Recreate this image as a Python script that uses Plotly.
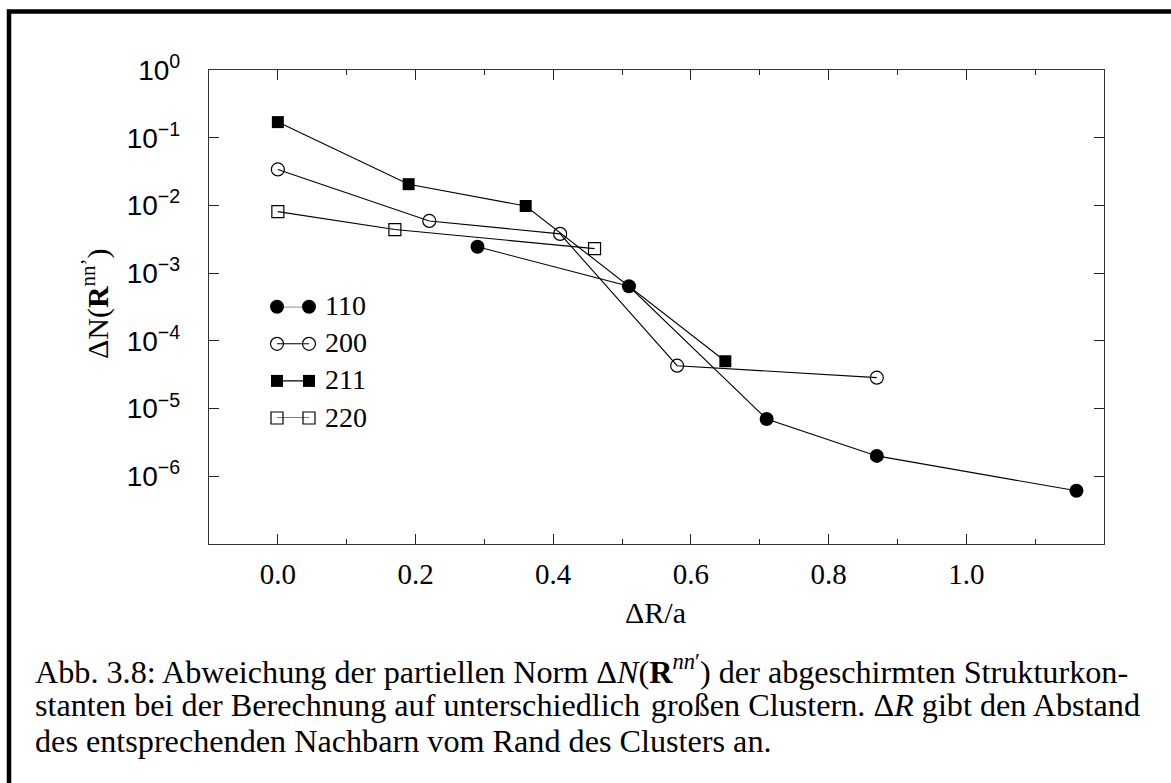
import plotly.graph_objects as go

# Distance from the cluster edge (ΔR/a) and deviation of the partial norm
r_110 = [0.29, 0.51, 0.71, 0.87, 1.16]
n_110 = [2.45e-3, 6.4e-4, 7.0e-6, 2.0e-6, 6.1e-7]

r_200 = [0.0, 0.22, 0.41, 0.58, 0.87]
n_200 = [3.4e-2, 5.9e-3, 3.8e-3, 4.3e-5, 2.86e-5]

r_211 = [0.0, 0.19, 0.36, 0.65]
n_211 = [1.7e-1, 2.06e-2, 9.8e-3, 5.0e-5]

r_220 = [0.0, 0.17, 0.46]
n_220 = [8.1e-3, 4.4e-3, 2.3e-3]

series_names = ["110", "200", "211", "220"]

x_tick_vals = [0.0, 0.2, 0.4, 0.6, 0.8, 1.0]
x_tick_text = ["0.0", "0.2", "0.4", "0.6", "0.8", "1.0"]
x_minor_vals = [-0.1, 0.1, 0.3, 0.5, 0.7, 0.9, 1.1]

y_tick_vals = [1e0, 1e-1, 1e-2, 1e-3, 1e-4, 1e-5, 1e-6]
y_tick_text = ["10<sup>0</sup>", "10<sup>\u22121</sup>", "10<sup>\u22122</sup>",
               "10<sup>\u22123</sup>", "10<sup>\u22124</sup>", "10<sup>\u22125</sup>",
               "10<sup>\u22126</sup>"]

HS = "\u200a"  # hair space, widens a few gaps of the justified caption line


def widen(text, every=6):
    words = text.split(" ")
    out = words[0]
    for i, w in enumerate(words[1:], start=1):
        out += (" " + HS if i % every == 0 else " ") + w
    return out


caption_lines = [
    "Abb. 3.8: Abweichung der partiellen Norm \u0394<i>N</i>(<b>R</b><sup><i>nn</i>\u2032</sup>) der abgeschirmten Strukturkon-",
    widen("stanten bei der Berechnung auf unterschiedlich gro\u00dfen Clustern. "
          "\u0394<i>R</i> gibt den Abstand"),
    "des entsprechenden Nachbarn vom Rand des Clusters an.",
]

W, H = 1171, 783
L, R, T, B = 209, 1104, 70, 544  # plot area in pixels

def px_x(p):
    return (p - L) / (R - L)

def px_y(p):
    return (B - p) / (B - T)

styles = {
    "110": dict(symbol="circle", size=14, color="black"),
    "200": dict(symbol="circle-open", size=13, color="black", line=dict(width=1.2)),
    "211": dict(symbol="square", size=12, color="black"),
    "220": dict(symbol="square-open", size=12, color="black", line=dict(width=1.2)),
}
data = {"110": (r_110, n_110), "200": (r_200, n_200),
        "211": (r_211, n_211), "220": (r_220, n_220)}

fig = go.Figure()
for name in series_names:
    xs, ys = data[name]
    fig.add_trace(go.Scatter(
        x=xs, y=ys, mode="lines+markers", name=name,
        line=dict(color="black", width=1.1),
        marker=styles[name], cliponaxis=False, showlegend=False,
    ))

# Legend keys: marker - line - marker, drawn on a small helper axis
for i, name in enumerate(series_names):
    fig.add_trace(go.Scatter(
        x=[0, 1], y=[i, i], mode="lines+markers", xaxis="x2", yaxis="y2",
        line=dict(color="black", width=1.1), marker=styles[name],
        cliponaxis=False, showlegend=False, hoverinfo="skip",
    ))
    fig.add_annotation(x=1, y=i, xref="x2", yref="y2", text=name,
                       showarrow=False, xanchor="left", yanchor="middle",
                       xshift=14, yshift=1,
                       font=dict(family="Liberation Serif", size=28, color="black"))

axis_common = dict(showline=True, linecolor="#333", linewidth=1.4, mirror="allticks",
                   ticks="inside", ticklen=10, tickwidth=1.2, tickcolor="#222",
                   showgrid=False, zeroline=False)

fig.update_layout(
    width=W, height=H,
    margin=dict(l=L, r=W - R, t=T, b=H - B),
    paper_bgcolor="white", plot_bgcolor="white",
    xaxis=dict(range=[-0.1, 1.2], tickmode="array", tickvals=x_tick_vals,
               ticktext=x_tick_text, ticklabelstandoff=4,
               tickfont=dict(family="Liberation Serif", size=29, color="black"),
               minor=dict(tickmode="array", tickvals=x_minor_vals, ticks="inside",
                          ticklen=5, tickwidth=1.2, tickcolor="#222"),
               **axis_common),
    yaxis=dict(type="log", range=[-7, 0], tickmode="array", tickvals=y_tick_vals,
               ticktext=y_tick_text, ticklabelstandoff=22,
               tickfont=dict(family="Liberation Sans", size=28, color="black"),
               **axis_common),
    xaxis2=dict(domain=[px_x(277), px_x(309)], range=[0, 1], anchor="y2",
                visible=False, fixedrange=True),
    yaxis2=dict(domain=[px_y(418), px_y(306.7)], range=[3, 0], anchor="x2",
                visible=False, fixedrange=True),
    showlegend=False,
)

# Axis titles
fig.add_annotation(x=px_x(655), y=px_y(612), xref="paper", yref="paper",
                   text="\u0394R/a", showarrow=False, xanchor="center", yanchor="middle",
                   font=dict(family="Liberation Serif", size=30, color="black"))
fig.add_annotation(x=px_x(95), y=px_y(304), xref="paper", yref="paper",
                   text="\u0394N(<b>R</b><sup>nn\u2019</sup>)", textangle=-90,
                   showarrow=False, xanchor="center", yanchor="middle",
                   font=dict(family="Liberation Serif", size=30, color="black"))

# Caption below the chart
for k, line in enumerate(caption_lines):
    fig.add_annotation(x=px_x(33), y=px_y(669 + 36 * k), xref="paper", yref="paper",
                       text=line, showarrow=False, xanchor="left", yanchor="middle",
                       font=dict(family="Liberation Serif", size=32.2, color="black"))

# Page frame on the left and top edges
fig.add_shape(type="path", xref="paper", yref="paper",
              path=f"M {px_x(9)},{px_y(800)} L {px_x(9)},{px_y(11.5)} L {px_x(1190)},{px_y(11.5)}",
              line=dict(color="black", width=4.5))

fig.write_html("out.html")
